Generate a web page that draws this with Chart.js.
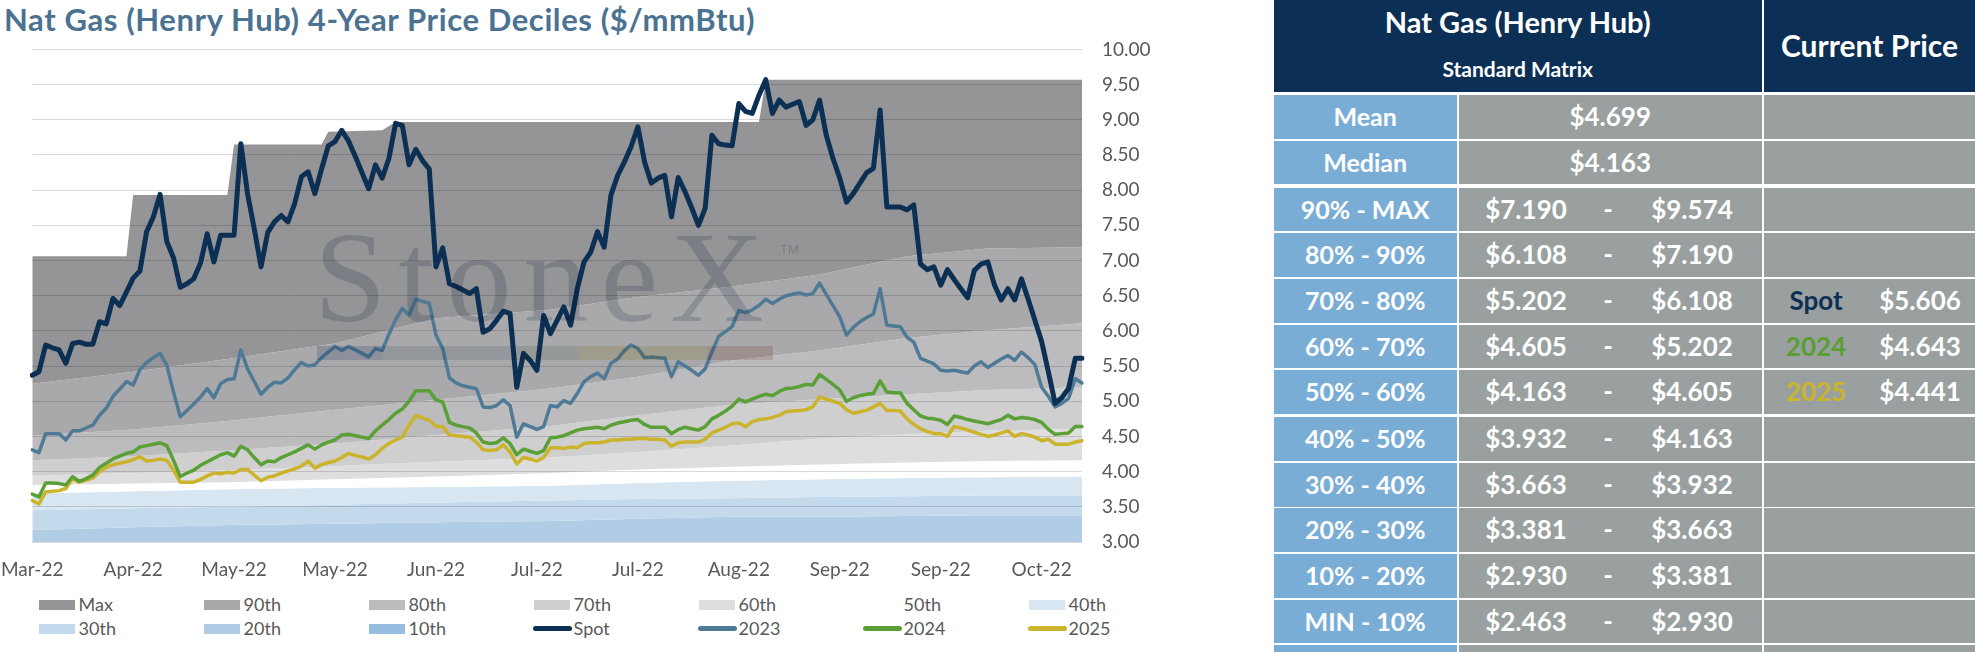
<!DOCTYPE html>
<html lang="en">
<head>
    <meta charset="UTF-8">
    <title>Nat Gas (Henry Hub) 4-Year Price Deciles</title>
    <script src="https://cdn.jsdelivr.net/npm/chart.js"></script>
    <style>
        body { margin: 0; width: 1975px; height: 652px; overflow: hidden; background: #fff; position: relative; font-family: Lato, "Noto Sans", sans-serif; }
        #titulo { position: absolute; left: 4px; top: 4px; font-size: 31px; font-weight: 700; letter-spacing: 0.6px; color: #4b7290; line-height: 1; white-space: nowrap; }
        #caixaGrafico { position: absolute; left: -15px; top: 18px; width: 1190px; height: 567px; }
        #marca { position: absolute; left: 314px; top: 212px; font-family: "Liberation Serif", "DejaVu Serif", serif; font-size: 130px; line-height: 1; letter-spacing: 12px; color: #d3dae0; mix-blend-mode: multiply; pointer-events: none; white-space: nowrap; }
        #marcaTm { position: absolute; left: 780px; top: 242px; font-family: "Liberation Sans", sans-serif; font-size: 13px; color: #d3dae0; mix-blend-mode: multiply; pointer-events: none; }
        #faixaMarca { position: absolute; left: 317px; top: 346px; width: 456px; height: 14px; mix-blend-mode: multiply; pointer-events: none;
            background: linear-gradient(to right, #d2d9e6 0%, #d2d9e6 14%, #dfe5ea 15%, #dfe5ea 44%, #e3e8e0 45%, #e3e8e0 57%, #f2ebcf 58%, #f2ebcf 85%, #efd9d9 86%, #efd9d9 100%); }
        #legenda .item { position: absolute; height: 19px; line-height: 19px; font-size: 18px; color: #595959; white-space: nowrap; }
        #legenda .caixa { position: absolute; left: 0; top: 4.5px; width: 36px; height: 10.5px; }
        #legenda .traco { position: absolute; left: -1px; top: 7px; width: 39px; height: 5px; border-radius: 3px; }
        #legenda .texto { position: absolute; left: 40px; top: 0; }
        #tabela { position: absolute; left: 1274px; top: 0; width: 701px; height: 652px; }
        #tabela .cel { position: absolute; color: #fff; font-weight: 700; }
        #tabela .txt { position: absolute; transform: translateX(-50%); white-space: nowrap; }
    </style>
</head>
<body>
    <div id="titulo">Nat Gas (Henry Hub) 4-Year Price Deciles ($/mmBtu)</div>
    <div id="caixaGrafico"><canvas id="myChart"></canvas></div>
    <div id="marca">StoneX</div>
    <div id="marcaTm">TM</div>
    <div id="faixaMarca"></div>
    <div id="legenda"></div>
    <div id="tabela"></div>

<script>
    // rotulos do eixo x (um a cada 15 pregoes)
    const rotulosX = ['Mar-22', 'Apr-22', 'May-22', 'May-22', 'Jun-22', 'Jul-22', 'Jul-22', 'Aug-22', 'Sep-22', 'Sep-22', 'Oct-22'];

    // series diarias ($/mmBtu)
    const spot = [
        5.37, 5.42, 5.80, 5.76, 5.73, 5.54, 5.82, 5.84, 5.81, 5.81,
        6.13, 6.10, 6.46, 6.36, 6.55, 6.75, 6.85, 7.41, 7.62, 7.94,
        7.27, 7.04, 6.62, 6.67, 6.74, 6.96, 7.38, 6.98, 7.36, 7.36,
        7.36, 8.66, 7.95, 7.45, 6.91, 7.40, 7.55, 7.64, 7.55, 7.81,
        8.19, 8.26, 7.95, 8.30, 8.63, 8.69, 8.85, 8.70, 8.48, 8.25,
        8.02, 8.36, 8.17, 8.45, 8.95, 8.92, 8.36, 8.58, 8.42, 8.30,
        6.91, 7.18, 6.67, 6.63, 6.58, 6.53, 6.60, 5.98, 6.03, 6.15,
        6.28, 6.25, 5.20, 5.68, 5.58, 5.44, 6.22, 5.96, 6.15, 6.34,
        6.08, 6.60, 6.98, 7.12, 7.41, 7.19, 7.93, 8.21, 8.40, 8.62,
        8.90, 8.40, 8.10, 8.17, 8.21, 7.62, 8.18, 7.98, 7.75, 7.50,
        7.74, 8.78, 8.66, 8.64, 8.63, 9.23, 9.12, 9.09, 9.35, 9.57,
        9.09, 9.28, 9.18, 9.22, 9.26, 8.92, 9.00, 9.28, 8.78, 8.45,
        8.17, 7.83, 7.95, 8.10, 8.25, 8.31, 9.14, 7.76, 7.76, 7.76,
        7.72, 7.79, 6.95, 6.87, 6.91, 6.65, 6.87, 6.73, 6.60, 6.47,
        6.86, 6.95, 6.98, 6.65, 6.44, 6.60, 6.44, 6.74, 6.45, 6.15,
        5.85, 5.42, 4.97, 5.05, 5.18, 5.61, 5.61
    ];
    const ano2023 = [
        4.31, 4.27, 4.54, 4.54, 4.54, 4.45, 4.58, 4.58, 4.62, 4.66,
        4.80, 4.90, 5.07, 5.17, 5.28, 5.23, 5.45, 5.55, 5.62, 5.68,
        5.51, 5.13, 4.78, 4.87, 4.96, 5.06, 5.18, 5.05, 5.25, 5.31,
        5.32, 5.73, 5.46, 5.28, 5.10, 5.20, 5.27, 5.26, 5.33, 5.45,
        5.55, 5.50, 5.52, 5.62, 5.70, 5.78, 5.72, 5.78, 5.73, 5.68,
        5.63, 5.75, 5.72, 5.95, 6.16, 6.32, 6.22, 6.45, 6.42, 6.39,
        5.94, 5.75, 5.33, 5.26, 5.22, 5.20, 5.18, 4.92, 4.91, 4.94,
        5.02, 4.94, 4.49, 4.68, 4.64, 4.60, 4.64, 4.94, 4.92, 5.01,
        4.97, 5.11, 5.28, 5.35, 5.40, 5.32, 5.54, 5.60, 5.72, 5.80,
        5.75, 5.62, 5.63, 5.62, 5.61, 5.35, 5.56, 5.50, 5.44, 5.37,
        5.46, 5.70, 5.92, 5.99, 6.06, 6.29, 6.26, 6.30, 6.36, 6.45,
        6.39, 6.45, 6.50, 6.52, 6.54, 6.51, 6.53, 6.68, 6.52, 6.36,
        6.20, 5.94, 6.05, 6.13, 6.19, 6.24, 6.60, 6.08, 6.07, 6.06,
        5.91, 5.84, 5.61, 5.57, 5.53, 5.44, 5.43, 5.44, 5.42, 5.40,
        5.50, 5.56, 5.48, 5.54, 5.60, 5.65, 5.58, 5.70, 5.62, 5.52,
        5.20, 5.07, 4.92, 4.97, 5.04, 5.32, 5.26
    ];
    const ano2024 = [
        3.68, 3.64, 3.84, 3.84, 3.83, 3.81, 3.93, 3.86, 3.90, 3.95,
        4.06, 4.12, 4.18, 4.22, 4.26, 4.28, 4.35, 4.37, 4.39, 4.41,
        4.37, 4.16, 3.93, 3.98, 4.02, 4.09, 4.14, 4.19, 4.24, 4.27,
        4.22, 4.36, 4.31, 4.20, 4.10, 4.15, 4.14, 4.20, 4.24, 4.28,
        4.33, 4.38, 4.32, 4.38, 4.42, 4.45, 4.52, 4.53, 4.51, 4.49,
        4.47, 4.58, 4.66, 4.74, 4.83, 4.89, 5.00, 5.15, 5.15, 5.15,
        5.02, 4.99, 4.70, 4.66, 4.64, 4.62, 4.55, 4.42, 4.40, 4.41,
        4.48, 4.40, 4.24, 4.32, 4.29, 4.26, 4.30, 4.48, 4.49, 4.51,
        4.55, 4.59, 4.61, 4.62, 4.63, 4.61, 4.66, 4.69, 4.71, 4.73,
        4.74, 4.67, 4.63, 4.63, 4.63, 4.54, 4.60, 4.63, 4.61, 4.59,
        4.64, 4.75, 4.80, 4.86, 4.93, 5.03, 4.99, 5.03, 5.07, 5.10,
        5.08, 5.14, 5.18, 5.19, 5.21, 5.24, 5.23, 5.38, 5.31, 5.24,
        5.16, 5.00, 5.05, 5.08, 5.10, 5.11, 5.29, 5.13, 5.12, 5.12,
        4.97, 4.88, 4.79, 4.76, 4.75, 4.73, 4.67, 4.79, 4.77, 4.74,
        4.72, 4.70, 4.68, 4.71, 4.74, 4.80, 4.75, 4.77, 4.76, 4.74,
        4.70, 4.60, 4.53, 4.54, 4.55, 4.64, 4.64
    ];
    const ano2025 = [
        3.59, 3.54, 3.71, 3.72, 3.73, 3.76, 3.90, 3.85, 3.88, 3.91,
        4.00, 4.06, 4.10, 4.12, 4.14, 4.17, 4.21, 4.15, 4.16, 4.18,
        4.16, 4.02, 3.85, 3.85, 3.85, 3.89, 3.94, 3.98, 3.97, 3.99,
        3.98, 4.03, 4.03, 3.95, 3.87, 3.92, 3.94, 3.98, 4.01, 4.04,
        4.08, 4.15, 4.05, 4.10, 4.13, 4.15, 4.20, 4.26, 4.23, 4.21,
        4.18, 4.24, 4.33, 4.40, 4.45, 4.49, 4.66, 4.80, 4.76, 4.73,
        4.64, 4.64, 4.52, 4.51, 4.50, 4.49, 4.42, 4.31, 4.30, 4.31,
        4.38, 4.28, 4.11, 4.20, 4.18, 4.15, 4.20, 4.34, 4.34, 4.33,
        4.35, 4.34, 4.40, 4.41, 4.41, 4.42, 4.45, 4.45, 4.46, 4.46,
        4.47, 4.47, 4.46, 4.46, 4.45, 4.36, 4.41, 4.42, 4.42, 4.42,
        4.46, 4.55, 4.59, 4.63, 4.68, 4.69, 4.64, 4.71, 4.74, 4.75,
        4.77, 4.80, 4.85, 4.86, 4.87, 4.88, 4.92, 5.06, 5.03, 5.00,
        4.97, 4.88, 4.83, 4.85, 4.87, 4.92, 4.97, 4.87, 4.87, 4.86,
        4.75, 4.67, 4.61, 4.57, 4.54, 4.54, 4.50, 4.64, 4.62, 4.59,
        4.56, 4.53, 4.50, 4.52, 4.55, 4.58, 4.50, 4.54, 4.52, 4.49,
        4.44, 4.46, 4.39, 4.39, 4.39, 4.42, 4.44
    ];

    // decis de 4 anos (topo de cada faixa), lidos em alguns pregoes
    const indicesFaixa = [0, 15, 29, 45, 60, 77, 90, 104, 117, 130, 142, 156];
    const p90 = [5.25, 5.42, 5.60, 5.82, 6.18, 6.30, 6.48, 6.63, 6.80, 7.06, 7.17, 7.19];
    const p80 = [4.51, 4.60, 4.72, 4.88, 5.02, 5.18, 5.35, 5.58, 5.72, 5.90, 6.01, 6.11];
    const p70 = [4.16, 4.22, 4.30, 4.40, 4.52, 4.65, 4.80, 4.95, 5.03, 5.10, 5.16, 5.20];
    const p60 = [3.94, 3.98, 4.02, 4.08, 4.14, 4.20, 4.28, 4.37, 4.47, 4.53, 4.58, 4.61];
    const p50 = [3.81, 3.83, 3.85, 3.89, 3.93, 3.98, 4.03, 4.07, 4.10, 4.13, 4.15, 4.16];
    const p40 = [3.69, 3.72, 3.75, 3.77, 3.78, 3.80, 3.84, 3.87, 3.89, 3.91, 3.92, 3.93];
    const p30 = [3.45, 3.48, 3.50, 3.53, 3.56, 3.59, 3.61, 3.62, 3.64, 3.65, 3.66, 3.66];
    const p20 = [3.17, 3.21, 3.24, 3.26, 3.28, 3.30, 3.33, 3.36, 3.36, 3.37, 3.38, 3.38];
    const p10 = [2.70, 2.72, 2.74, 2.77, 2.80, 2.84, 2.87, 2.89, 2.91, 2.92, 2.93, 2.93];
    // maximo muda em degraus
    const indicesMax = [0, 14, 15, 29, 30, 43, 44, 52, 54, 108, 109, 156];
    const valoresMax = [7.06, 7.06, 7.93, 7.93, 8.65, 8.65, 8.83, 8.85, 8.97, 8.97, 9.57, 9.57];

    // tabela da direita
    const linhasTabela = ['Mean', 'Median', '90% - MAX', '80% - 90%', '70% - 80%', '60% - 70%', '50% - 60%', '40% - 50%', '30% - 40%', '20% - 30%', '10% - 20%', 'MIN - 10%'];
    const media = 4.699;
    const mediana = 4.163;
    const faixaDe = [7.190, 6.108, 5.202, 4.605, 4.163, 3.932, 3.663, 3.381, 2.930, 2.463];
    const faixaAte = [9.574, 7.190, 6.108, 5.202, 4.605, 4.163, 3.932, 3.663, 3.381, 2.930];
    const precoRotulos = ['Spot', '2024', '2025'];
    const precoAtual = [5.606, 4.643, 4.441];

    const nomesFaixa = ['Max', '90th', '80th', '70th', '60th', '50th', '40th', '30th', '20th', '10th'];
    const coresFaixa = ['#959597', '#a9a9ab', '#bcbcbe', '#cfcfd0', '#dedede', '#ffffff', '#d8e6f2', '#c3d9ec', '#b0cde5', '#97bde0'];

    const total = spot.length;
    const categorias = spot.map(function (v, i) { return i; });

    function espalhar(indices, valores) {
        var saida = new Array(total).fill(null);
        indices.forEach(function (k, j) { saida[k] = valores[j]; });
        return saida;
    }

    const topos = [
        espalhar(indicesMax, valoresMax),
        espalhar(indicesFaixa, p90), espalhar(indicesFaixa, p80), espalhar(indicesFaixa, p70),
        espalhar(indicesFaixa, p60), espalhar(indicesFaixa, p50), espalhar(indicesFaixa, p40),
        espalhar(indicesFaixa, p30), espalhar(indicesFaixa, p20), espalhar(indicesFaixa, p10)
    ];

    var conjuntos = nomesFaixa.map(function (nome, i) {
        return {
            label: nome, data: topos[i], backgroundColor: coresFaixa[i], borderColor: coresFaixa[i],
            borderWidth: 0, pointRadius: 0, spanGaps: true,
            fill: i < nomesFaixa.length - 1 ? '+1' : 'start', tipo: 'faixa'
        };
    });

    function linha(nome, dados, cor, largura) {
        return { label: nome, data: dados, borderColor: cor, backgroundColor: cor, borderWidth: largura,
            pointRadius: 0, fill: false, borderJoinStyle: 'round', borderCapStyle: 'round', tipo: 'linha' };
    }
    conjuntos.push(linha('Spot', spot, '#0c3054', 5));
    conjuntos.push(linha('2023', ano2023, '#4f7a96', 3.5));
    conjuntos.push(linha('2024', ano2024, '#5aa036', 3.5));
    conjuntos.push(linha('2025', ano2025, '#cbb42b', 3.5));

    const ctx = document.getElementById('myChart');
    const grafico = new Chart(ctx, {
        type: 'line',
        data: { labels: categorias, datasets: conjuntos },
        options: {
            responsive: true,
            maintainAspectRatio: false,
            animation: false,
            layout: { padding: { left: 0, top: 0, right: 3, bottom: 3 } },
            plugins: {
                legend: { display: false },
                tooltip: { enabled: false },
                filler: { drawTime: 'beforeDraw' }
            },
            scales: {
                x: {
                    grid: { display: false, drawTicks: false },
                    border: { display: false },
                    ticks: {
                        autoSkip: false, maxRotation: 0, padding: 16,
                        color: '#595959', font: { family: 'Lato', size: 19 },
                        callback: function (valor, indice) {
                            return indice % 15 === 0 ? rotulosX[indice / 15] : null;
                        }
                    },
                    afterFit: function (escala) { escala.height = 40; }
                },
                y: {
                    position: 'right', min: 3, max: 10,
                    grid: { color: 'rgba(0,0,0,0.15)', drawTicks: false },
                    border: { display: false },
                    ticks: {
                        stepSize: 0.5, padding: 20, color: '#595959', font: { family: 'Lato', size: 19 },
                        callback: function (v) { return v.toFixed(2); }
                    },
                    afterFit: function (escala) { escala.width = 90; }
                }
            }
        }
    });

    // legenda em grade (7 colunas)
    const legenda = document.getElementById('legenda');
    grafico.data.datasets.forEach(function (d, i) {
        var coluna = i % 7, fila = Math.floor(i / 7);
        var item = document.createElement('div');
        item.className = 'item';
        item.style.left = (38.6 + 165 * coluna) + 'px';
        item.style.top = (fila === 0 ? 595.1 : 619.1) + 'px';
        var marca = document.createElement('span');
        marca.className = d.tipo === 'faixa' ? 'caixa' : 'traco';
        marca.style.background = d.tipo === 'faixa' ? d.backgroundColor : d.borderColor;
        var texto = document.createElement('span');
        texto.className = 'texto';
        texto.textContent = d.label;
        item.appendChild(marca);
        item.appendChild(texto);
        legenda.appendChild(item);
    });

    // tabela
    const tabela = document.getElementById('tabela');
    const azul = '#7aadd6', cinza = '#9aa09f', marinho = '#0b2f55';
    const coresPreco = ['#0c3054', '#5a9e32', '#c8b52c'];

    function celula(x, y, w, h, cor) {
        var c = document.createElement('div');
        c.className = 'cel';
        c.style.left = x + 'px'; c.style.top = y + 'px';
        c.style.width = w + 'px'; c.style.height = h + 'px';
        c.style.background = cor;
        tabela.appendChild(c);
        return c;
    }
    function texto(pai, cx, y, h, conteudo, tamanho, cor) {
        var t = document.createElement('div');
        t.className = 'txt';
        t.style.left = cx + 'px'; t.style.top = y + 'px';
        t.style.height = h + 'px'; t.style.lineHeight = h + 'px';
        t.style.fontSize = tamanho + 'px';
        if (cor) t.style.color = cor;
        t.textContent = conteudo;
        pai.appendChild(t);
    }
    function dinheiro(v) { return '$' + v.toFixed(3); }

    var cab1 = celula(0, 0, 487.5, 91.5, marinho);
    texto(cab1, 243.7, 4, 36, 'Nat Gas (Henry Hub)', 29);
    texto(cab1, 243.7, 54, 30, 'Standard Matrix', 21);
    var cab2 = celula(490, 0, 211, 91.5, marinho);
    texto(cab2, 105.5, 27, 36, 'Current Price', 30);

    for (var k = 0; k < linhasTabela.length + 1; k++) {
        var topo = 95 + 45.6 * k + (k >= 2 ? 1.5 : 0) + (k >= 7 ? 1.5 : 0);
        var alt = 43.8;
        var c1 = celula(0, topo, 182.5, alt, azul);
        var c2 = celula(184.5, topo, 303.5, alt, cinza);
        var c3 = celula(490, topo, 211, alt, cinza);
        if (k >= linhasTabela.length) continue;
        texto(c1, 91.2, 0, alt, linhasTabela[k], 25);
        if (k === 0) {
            texto(c2, 151.7, 0, alt, dinheiro(media), 26);
        } else if (k === 1) {
            texto(c2, 151.7, 0, alt, dinheiro(mediana), 26);
        } else {
            texto(c2, 67.5, 0, alt, dinheiro(faixaDe[k - 2]), 26);
            texto(c2, 149.5, 0, alt, '-', 26);
            texto(c2, 233.5, 0, alt, dinheiro(faixaAte[k - 2]), 26);
        }
        var p = k - 4;
        if (p >= 0 && p < precoRotulos.length) {
            texto(c3, 52, 0, alt, precoRotulos[p], 26, coresPreco[p]);
            texto(c3, 156, 0, alt, dinheiro(precoAtual[p]), 26);
        }
    }
</script>
</body>
</html>
